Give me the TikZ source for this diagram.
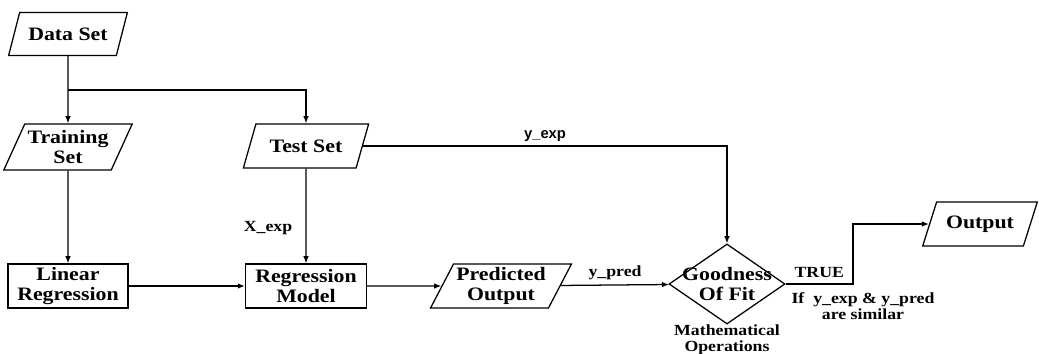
\documentclass[tikz,border=0pt]{standalone}
\usepackage{fontspec}
\setmainfont{Liberation Serif}[FakeStretch=1.15]
\setsansfont{Liberation Sans}
\usepackage{tikz}
\usetikzlibrary{shapes.geometric, arrows.meta, positioning, calc}

\begin{document}
\begin{tikzpicture}[
    x=0.025cm, y=-0.025cm,
    every node/.style={font=\bfseries\fontsize{13.5}{14.5}\selectfont},
    io/.style={draw, trapezium, trapezium left angle=62, trapezium right angle=118,
               trapezium stretches=true, line width=0.9pt, inner sep=2pt,
               minimum height=1.1cm, align=center},
    proc/.style={draw, rectangle, line width=0.9pt, inner sep=2pt,
                 minimum width=3cm, minimum height=1.1cm, align=center},
    dec/.style={draw, diamond, aspect=1.45, line width=0.9pt, inner sep=-0.15cm,
                minimum width=2.9cm, minimum height=2cm, align=center},
    lbl/.style={font=\bfseries\fontsize{11}{11.5}\selectfont, inner sep=1pt},
    sanslbl/.style={font=\sffamily\bfseries\fontsize{10.5}{11}\selectfont, inner sep=1pt},
    arr/.style={-{Latex[length=1.8mm, width=1.4mm]}, line width=0.9pt}
]
    \useasboundingbox (0,0) rectangle (1039,354);

    % Inputs and split
    \node[io, minimum width=2.98cm, minimum height=1.08cm] (ds) at (68,34) {Data Set};
    \node[io, minimum width=2.8cm, minimum height=1.15cm] (trs) at (68,147) {Training\\Set};
    \node[io, minimum width=3.15cm] (ts) at (306,146) {Test Set};
    \coordinate (br) at (68,90);

    % Model row
    \node[proc] (lr) at (68,286) {Linear\\Regression};
    \node[proc, minimum width=3.02cm] (rm) at (306,286) {Regression\\Model};
    \node[io, minimum width=3.45cm] (po) at (501,286) {Predicted\\Output};
    \node[dec] (gof) at (727,284) {Goodness\\Of Fit};
    \node[io, minimum width=2.88cm] (out) at (980,224) {Output};
    \coordinate (bend) at (853,0);

    % Labels
    \node[lbl] (xexp) at (268,228) {X\_exp};
    \node[lbl, align=center] (mathop) at (727,340) {Mathematical\\Operations};
    \node[lbl, align=center] (cond) at (863,306) {If~ y\_exp \& y\_pred\\are similar};

    % Connectors
    \draw[arr] (ds) -- (trs);
    \draw[arr] (br) -| (ts);
    \draw[arr] (trs) -- (lr);
    \draw[arr] (ts) -- (rm);
    \draw[arr] (lr) -- (rm);
    \draw[arr] (rm) -- (po);
    \draw[arr] (po) -- node[lbl, above=2pt] (ypred) {y\_pred} (gof);
    \draw[arr] (ts) -| node[sanslbl, pos=0.25, above=2pt] (yexp) {y\_exp} (gof);
    \draw[arr] (gof) -- node[lbl, above=3pt] (true) {TRUE} (gof -| bend) |- (out);
\end{tikzpicture}
\end{document}
